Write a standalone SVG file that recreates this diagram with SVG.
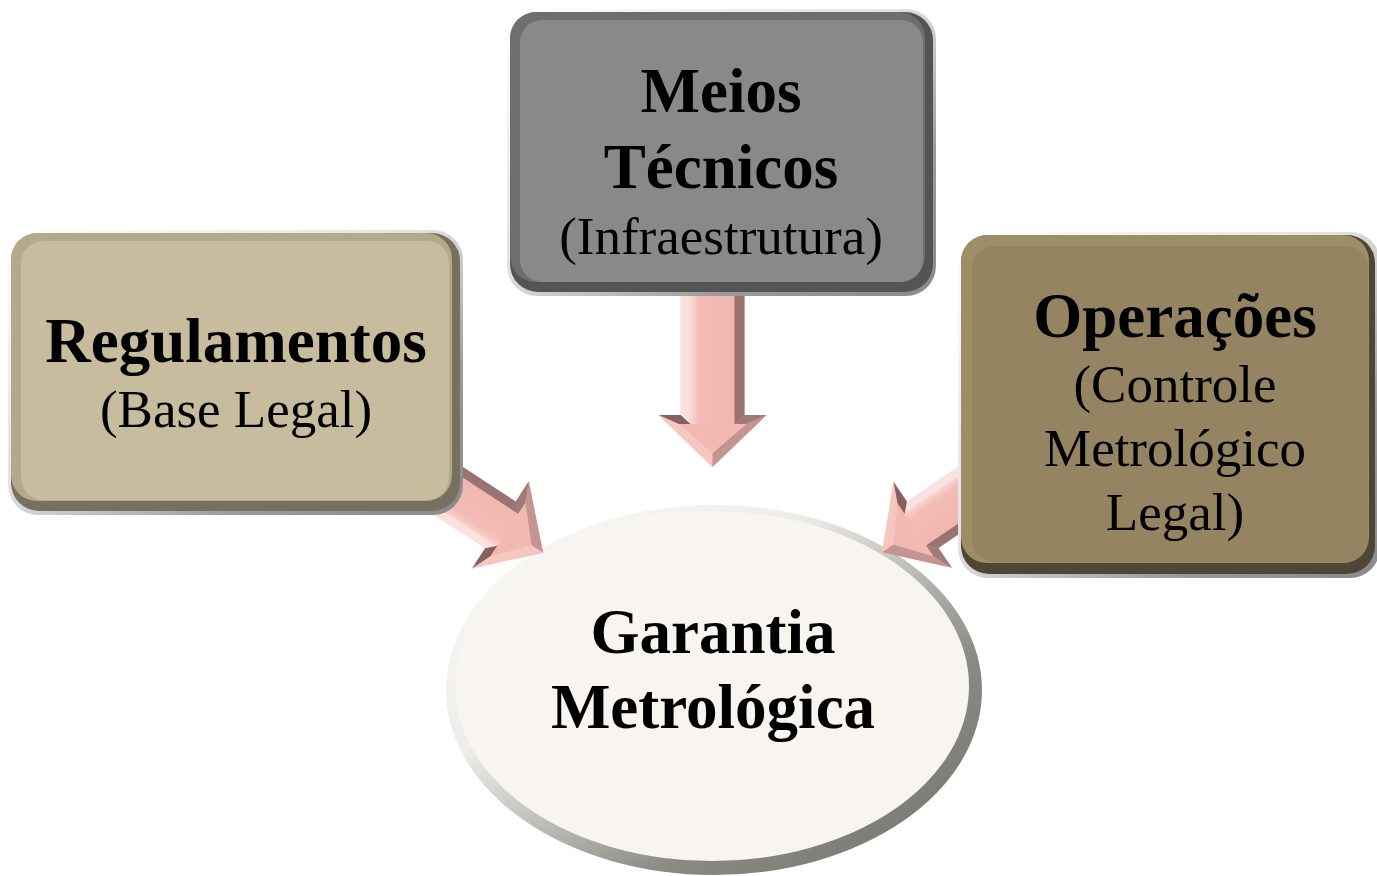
<svg xmlns="http://www.w3.org/2000/svg" width="1377" height="876" viewBox="0 0 1377 876">
<defs>
  <linearGradient id="edge" x1="0" y1="0" x2="1" y2="1">
    <stop offset="0" stop-color="#ffffff"/>
    <stop offset="0.45" stop-color="#e2e2e2"/>
    <stop offset="0.75" stop-color="#9a9a9a"/>
    <stop offset="1" stop-color="#8a8a8a"/>
  </linearGradient>
  <linearGradient id="ring" x1="0" y1="0" x2="1" y2="1">
    <stop offset="0" stop-color="#fdfdfc"/>
    <stop offset="0.35" stop-color="#ececea"/>
    <stop offset="0.7" stop-color="#8a8a84"/>
    <stop offset="1" stop-color="#72726c"/>
  </linearGradient>
  <linearGradient id="shaft" x1="0" y1="0" x2="1" y2="0">
    <stop offset="0" stop-color="#f2bcb6"/>
    <stop offset="0.25" stop-color="#fde6e2"/>
    <stop offset="0.38" stop-color="#f3bcb6"/>
    <stop offset="1" stop-color="#eeb2ac"/>
  </linearGradient>
</defs>
<style>
  .t{font-family:"Liberation Serif","Times New Roman",serif;font-weight:bold;font-size:63px;fill:#000;text-anchor:middle}
  .s{font-family:"Liberation Serif","Times New Roman",serif;font-size:53px;fill:#000;text-anchor:middle}
  .fl{fill:#fbe2de}
  .fd{fill:#9a7270}
  .fw{fill:#86605e}
  .fw2{fill:#a07a78}
  .hl{fill:#f6c6c0}
  .hr{fill:#c49490}
  .hf{fill:#f2b8b2}
</style>

<g id="garantia">
  <ellipse cx="714" cy="690" rx="268" ry="185" fill="url(#ring)"/>
  <ellipse cx="712" cy="686" rx="257" ry="175" fill="#f8f4ef"/>
  <text class="t" x="713" y="653">Garantia</text>
  <text class="t" x="713" y="728">Metrológica</text>
</g>

<g id="connectors">
  <g transform="translate(712.5,295)">
    <polygon points="-32,0 32,0 32,120 54,120 0,172 -54,120 -32,120" fill="url(#shaft)"/>
    <polygon class="fl" points="-32,0 -24,0 -24,128 -32,120"/>
    <polygon class="fd" points="22,0 32,0 32,120 22,129"/>
    <polygon class="fw" points="-32,120 -22,129 -34,129 -54,120"/>
    <polygon class="fw2" points="32,120 54,120 34,129 22,129"/>
    <polygon class="hl" points="-54,120 -34,129 0,158 0,172"/>
    <polygon class="hr" points="54,120 0,172 0,158 34,129"/>
    <polygon class="hf" points="-22,129 22,129 34,129 0,158 -34,129"/>
  </g>
  <g transform="translate(430,479) rotate(-56.9)">
    <polygon points="-28,0 28,0 28,84 52,84 0,135 -52,84 -28,84" fill="url(#shaft)"/>
    <polygon class="fl" points="-28,0 -20,0 -20,92 -28,84"/>
    <polygon class="fd" points="19,0 28,0 28,84 19,93"/>
    <polygon class="fw" points="-28,84 -19,93 -32,93 -52,84"/>
    <polygon class="fw2" points="28,84 52,84 32,93 19,93"/>
    <polygon class="hl" points="-52,84 -32,93 0,121 0,135"/>
    <polygon class="hr" points="52,84 0,135 0,121 32,93"/>
    <polygon class="hf" points="-19,93 19,93 32,93 0,121 -32,93"/>
  </g>
  <g transform="translate(993,477) rotate(55.8)">
    <polygon points="-28,0 28,0 28,85 52,85 0,134 -52,85 -28,85" fill="url(#shaft)"/>
    <polygon class="fl" points="-28,0 -20,0 -20,93 -28,85"/>
    <polygon class="fd" points="19,0 28,0 28,85 19,94"/>
    <polygon class="fw" points="-28,85 -19,94 -32,94 -52,85"/>
    <polygon class="fw2" points="28,85 52,85 32,94 19,94"/>
    <polygon class="hl" points="-52,85 -32,94 0,120 0,134"/>
    <polygon class="hr" points="52,85 0,134 0,120 32,94"/>
    <polygon class="hf" points="-19,94 19,94 32,94 0,120 -32,94"/>
  </g>
</g>

<g id="regulamentos">
  <rect x="8" y="230" width="455" height="285" rx="30" fill="url(#edge)"/>
  <rect x="11" y="233" width="449" height="278" rx="28" fill="#77705f"/>
  <rect x="11" y="233" width="441" height="268" rx="26" fill="#b4a98c"/>
  <rect x="21" y="241" width="428" height="259" rx="22" fill="#c8bc9e"/>
  <text class="t" x="236" y="362">Regulamentos</text>
  <text class="s" x="236" y="427">(Base Legal)</text>
</g>

<g id="meios">
  <rect x="507" y="9" width="429" height="287" rx="30" fill="url(#edge)"/>
  <rect x="510" y="12" width="423" height="280" rx="28" fill="#545454"/>
  <rect x="510" y="12" width="415" height="270" rx="26" fill="#6e6e6e"/>
  <rect x="520" y="20" width="403" height="262" rx="22" fill="#898989"/>
  <text class="t" x="721" y="112">Meios</text>
  <text class="t" x="721" y="188">Técnicos</text>
  <text class="s" x="721" y="254">(Infraestrutura)</text>
</g>

<g id="operacoes">
  <rect x="958" y="232" width="422" height="346" rx="30" fill="url(#edge)"/>
  <rect x="961" y="235" width="414" height="339" rx="28" fill="#4f4735"/>
  <rect x="961" y="235" width="408" height="328" rx="26" fill="#9e8e68"/>
  <rect x="972" y="246" width="396" height="316" rx="22" fill="#948462"/>
  <text class="t" x="1175" y="337">Operações</text>
  <text class="s" x="1175" y="402">(Controle</text>
  <text class="s" x="1175" y="466">Metrológico</text>
  <text class="s" x="1175" y="530">Legal)</text>
</g>
</svg>
